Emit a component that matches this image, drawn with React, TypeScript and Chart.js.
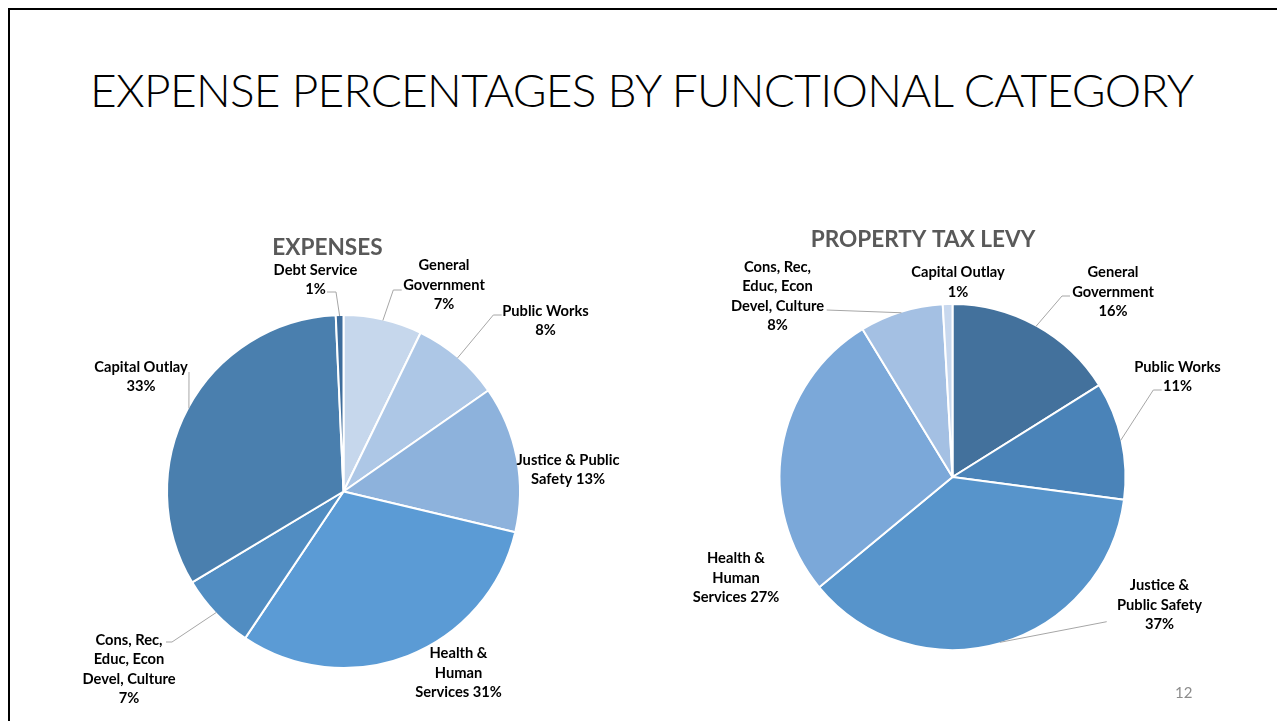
import React, { useEffect, useRef } from "react";
import { Chart, registerables } from "chart.js";

Chart.register(...registerables);

// ---------- Data ----------
const expenseCategories = [
  "General Government",
  "Public Works",
  "Justice & Public Safety",
  "Health & Human Services",
  "Cons, Rec, Educ, Econ Devel, Culture",
  "Capital Outlay",
  "Debt Service",
];
const expenseValues = [7.2, 8.1, 13.4, 30.7, 7.0, 32.9, 0.7];

const levyCategories = [
  "General Government",
  "Public Works",
  "Justice & Public Safety",
  "Health & Human Services",
  "Cons, Rec, Educ, Econ Devel, Culture",
  "Capital Outlay",
];
const levyValues = [16.1, 11.0, 36.9, 27.3, 7.8, 0.9];

const slideTitle = "EXPENSE PERCENTAGES BY FUNCTIONAL CATEGORY";
const expenseTitle = "EXPENSES";
const levyTitle = "PROPERTY TAX LEVY";
const pageNumber = "12";

// ---------- Styles ----------
const expenseColors = ["#C6D7EC", "#ADC7E6", "#8DB2DC", "#5B9BD5", "#518DC2", "#4A7FAE", "#3E6D9C"];
const levyColors = ["#43719C", "#4A83B8", "#5794CB", "#7BA8D9", "#A4C0E3", "#C8D8EE"];

type LabelLayout = { dx: number; dy: number; wrap: number[]; leader?: number[][] };

// label block centres / leader elbows, offsets from the pie centre (px)
const expenseLabelLayout: LabelLayout[] = [
  { dx: 100.5, dy: -207, wrap: [1, 1, 1], leader: [[49.8, -201.5], [58.2, -201.5]] },
  { dx: 202, dy: -171.5, wrap: [2, 1], leader: [[149.8, -176.5], [158.2, -176.5]] },
  { dx: 224.5, dy: -22.5, wrap: [3, 2] },
  { dx: 115, dy: 181, wrap: [2, 1, 2] },
  { dx: -214.5, dy: 177, wrap: [2, 2, 2, 1], leader: [[-171.5, 150.5], [-177.5, 150.5]] },
  { dx: -202.5, dy: -115.5, wrap: [2, 1], leader: [[-154.5, -119.5]] },
  { dx: -28, dy: -212.5, wrap: [2, 1], leader: [[-7.5, -199.5], [-16.5, -199.5]] },
];
const levyLabelLayout: LabelLayout[] = [
  { dx: 160.5, dy: -185.7, wrap: [1, 1, 1], leader: [[109.5, -181], [117.5, -181]] },
  { dx: 225, dy: -101, wrap: [2, 1], leader: [[200.8, -87], [209.2, -87]] },
  { dx: 207, dy: 127.3, wrap: [2, 2, 1], leader: [[154.2, 144.7]] },
  { dx: -216.5, dy: 100.3, wrap: [2, 1, 2] },
  { dx: -175, dy: -181.5, wrap: [2, 2, 2, 1], leader: [[-125.8, -167]] },
  { dx: 5.5, dy: -195.5, wrap: [2, 1] },
];

const LABEL_FONT_SIZE = 14.7;
const LABEL_LINE_HEIGHT = 19.5;
const TITLE_FONT_SIZE = 22.6;
const FONT = "Lato, 'Open Sans', sans-serif";

function makeLabelPlugin(layout: LabelLayout[], title: string, titleOffset: number[]) {
  return {
    id: "sliceLabels",
    afterDatasetsDraw(chart: any) {
      const { ctx } = chart;
      const meta = chart.getDatasetMeta(0);
      const data: number[] = chart.data.datasets[0].data;
      const labels: string[] = chart.data.labels;
      const total = data.reduce((a, b) => a + b, 0);
      ctx.save();
      let cx = 0;
      let cy = 0;
      meta.data.forEach((arc: any, i: number) => {
        const p = arc.getProps(["x", "y", "startAngle", "endAngle", "outerRadius"], true);
        cx = p.x;
        cy = p.y;
        const L = layout[i];
        if (!L) return;
        const mid = (p.startAngle + p.endAngle) / 2;
        if (L.leader) {
          const r = p.outerRadius - 1;
          ctx.beginPath();
          ctx.moveTo(p.x + Math.cos(mid) * r, p.y + Math.sin(mid) * r);
          L.leader.forEach(([dx, dy]) => ctx.lineTo(p.x + dx, p.y + dy));
          ctx.strokeStyle = "#A6A6A6";
          ctx.lineWidth = 1;
          ctx.stroke();
        }
        const pct = Math.round((data[i] / total) * 100);
        const words = `${labels[i]} ${pct}%`.split(" ");
        let k = 0;
        const lines = L.wrap.map((n) => {
          const s = words.slice(k, k + n).join(" ");
          k += n;
          return s;
        });
        ctx.font = `bold ${LABEL_FONT_SIZE}px ${FONT}`;
        ctx.fillStyle = "#000000";
        ctx.textAlign = "center";
        ctx.textBaseline = "alphabetic";
        const y0 = p.y + L.dy - ((lines.length - 1) * LABEL_LINE_HEIGHT) / 2;
        lines.forEach((s, j) => {
          ctx.fillText(s, p.x + L.dx, y0 + j * LABEL_LINE_HEIGHT + LABEL_FONT_SIZE * 0.36);
        });
      });
      ctx.font = `bold ${TITLE_FONT_SIZE}px ${FONT}`;
      ctx.fillStyle = "#595959";
      ctx.textAlign = "center";
      ctx.textBaseline = "alphabetic";
      ctx.fillText(title, cx + titleOffset[0], cy + titleOffset[1] + TITLE_FONT_SIZE * 0.36);
      ctx.restore();
    },
  };
}

type PieProps = {
  categories: string[];
  values: number[];
  colors: string[];
  layout: LabelLayout[];
  title: string;
  titleOffset: number[];
  radius: number;
  left: number;
  top: number;
  width: number;
  height: number;
  padTop: number;
};

function PieChart(props: PieProps) {
  const ref = useRef<HTMLCanvasElement>(null);
  useEffect(() => {
    const chart = new Chart(ref.current as HTMLCanvasElement, {
      type: "pie",
      data: {
        labels: props.categories,
        datasets: [
          {
            data: props.values,
            backgroundColor: props.colors,
            borderColor: "#FFFFFF",
            borderWidth: 2,
            radius: props.radius,
          } as any,
        ],
      },
      options: {
        animation: false,
        responsive: true,
        maintainAspectRatio: false,
        events: [],
        layout: { padding: { top: props.padTop, bottom: 0, left: 0, right: 0 } },
        plugins: {
          legend: { display: false },
          tooltip: { enabled: false },
          title: { display: false },
        },
      },
      plugins: [makeLabelPlugin(props.layout, props.title, props.titleOffset)],
    });
    return () => chart.destroy();
  }, []);
  return (
    <div
      style={{
        position: "absolute",
        left: props.left,
        top: props.top,
        width: props.width,
        height: props.height,
      }}
    >
      <canvas ref={ref} />
    </div>
  );
}

export default function App() {
  useEffect(() => {
    document.body.style.overflow = "hidden";
  }, []);
  return (
    <div
      style={{
        position: "relative",
        width: 1277,
        height: 713,
        boxSizing: "border-box",
        borderTop: "2px solid #000",
        borderLeft: "2px solid #000",
        overflow: "hidden",
        background: "#FFFFFF",
        fontFamily: FONT,
      }}
    >
      <div
        style={{
          position: "absolute",
          left: 80,
          top: 57,
          fontSize: 46,
          fontWeight: 300,
          letterSpacing: -0.68,
          lineHeight: 1,
          whiteSpace: "nowrap",
          color: "#000000",
        }}
      >
        {slideTitle}
      </div>
      <PieChart
        categories={expenseCategories}
        values={expenseValues}
        colors={expenseColors}
        layout={expenseLabelLayout}
        title={expenseTitle}
        titleOffset={[-16, -244.5]}
        radius={176.5}
        left={20}
        top={215}
        width={627}
        height={490}
        padTop={43}
      />
      <PieChart
        categories={levyCategories}
        values={levyValues}
        colors={levyColors}
        layout={levyLabelLayout}
        title={levyTitle}
        titleOffset={[-29.5, -238]}
        radius={173}
        left={660}
        top={212}
        width={565}
        height={478}
        padTop={32}
      />
      <div
        style={{
          position: "absolute",
          left: 1165,
          top: 675,
          fontSize: 15,
          lineHeight: 1,
          color: "#8C8C8C",
        }}
      >
        {pageNumber}
      </div>
    </div>
  );
}
